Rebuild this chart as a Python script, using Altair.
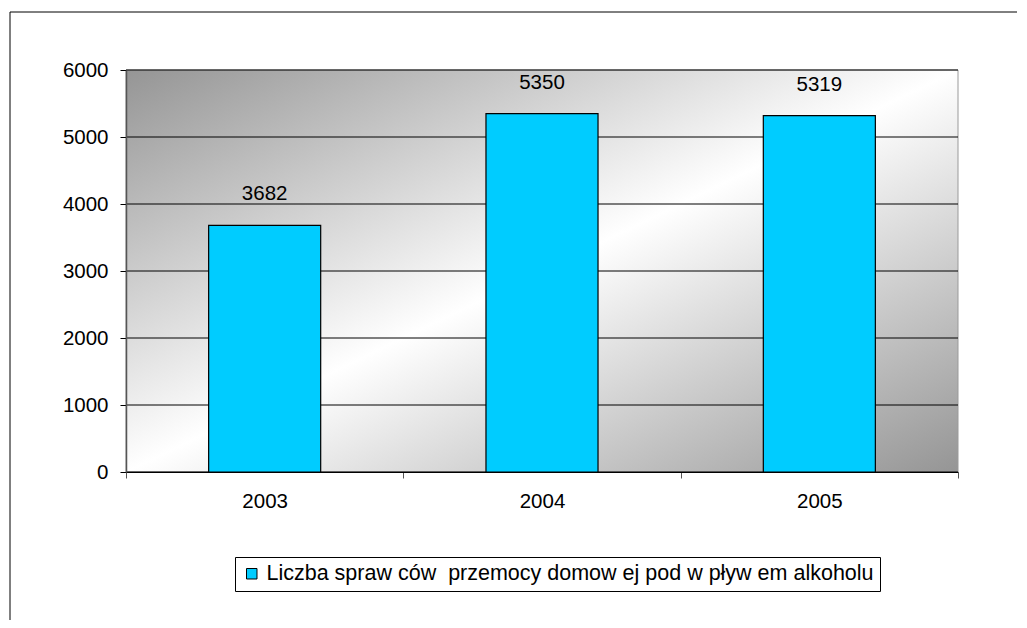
import altair as alt
import pandas as pd

years = ["2003", "2004", "2005"]
values = [3682, 5350, 5319]
series_name = "Liczba spraw ców \u00a0przemocy domow ej pod w pływ em alkoholu"
y_ticks = [0, 1000, 2000, 3000, 4000, 5000, 6000]

FONT = "Liberation Sans"
FS = 20.5
W, H = 832, 402

df = pd.DataFrame({"year": years, "value": values, "series": [series_name] * len(years)})
ticks_df = pd.DataFrame({"t": y_ticks})

x_scale = alt.Scale(paddingInner=0, paddingOuter=0)
y_scale = alt.Scale(domain=[0, 6000], nice=False)

y_axis = alt.Axis(
    values=y_ticks, format="d", grid=False, labelFont=FONT, labelFontSize=FS,
    labelColor="black", tickSize=6, tickColor="black", domainColor="#555",
    domainWidth=1.5, labelPadding=12, zindex=1,
)
x_axis = alt.Axis(
    labelAngle=0, labelFont=FONT, labelFontSize=FS, labelColor="black",
    tickBand="extent", tickSize=6, tickColor="#555", domainColor="black",
    labelPadding=13, zindex=1,
)

one = alt.Data(values=[{"a": 1}])

background = alt.Chart(one).mark_rect(
    fill=alt.Gradient(
        gradient="linear",
        stops=[
            alt.GradientStop(color="#959595", offset=0),
            alt.GradientStop(color="#ffffff", offset=0.5),
            alt.GradientStop(color="#959595", offset=1),
        ],
        x1=0, y1=0, x2=1, y2=1,
    ),
    stroke="#9a9a9a",
    strokeWidth=1,
).encode(x=alt.value(0), x2=alt.value(W), y=alt.value(0), y2=alt.value(H))

grid = alt.Chart(ticks_df).mark_rule(color="black", strokeWidth=1).encode(
    y=alt.Y("t:Q", scale=y_scale, axis=y_axis, title=None)
)

bars = alt.Chart(df).mark_bar(
    stroke="black", strokeWidth=1.2, width=alt.RelativeBandSize(0.404)
).encode(
    x=alt.X("year:N", scale=x_scale, title=None, axis=x_axis),
    y=alt.Y("value:Q", scale=y_scale, title=None, axis=y_axis),
    color=alt.Color(
        "series:N",
        scale=alt.Scale(range=["#00CCFF"]),
        legend=alt.Legend(
            title=None, orient="none", legendX=109, legendY=487,
            direction="vertical",
            labelFont=FONT, labelFontSize=21.5, labelColor="black", labelLimit=1000,
            symbolType="square", symbolSize=110, symbolStrokeColor="black",
            symbolStrokeWidth=1, labelOffset=4, padding=6,
            strokeColor="black", fillColor="white",
        ),
    ),
)

labels = alt.Chart(df).mark_text(
    font=FONT, fontSize=FS, color="black", baseline="alphabetic", dy=-25
).encode(
    x=alt.X("year:N", scale=x_scale),
    y=alt.Y("value:Q", scale=y_scale),
    text=alt.Text("value:Q"),
)

border_left = alt.Chart(one).mark_rule(color="black", strokeWidth=1).encode(
    x=alt.value(-116), y=alt.value(-58), y2=alt.value(550)
)
border_top = alt.Chart(one).mark_rule(color="black", strokeWidth=1).encode(
    x=alt.value(-116), x2=alt.value(891), y=alt.value(-58)
)

chart = alt.layer(background, grid, bars, labels, border_left, border_top).properties(
    width=W,
    height=H,
    padding={"left": 118, "top": 62, "right": 61, "bottom": 148},
    autosize=alt.AutoSizeParams(type="none"),
).configure_view(stroke=None)

chart.save("out.html", embed_options={"renderer": "svg", "actions": False})
